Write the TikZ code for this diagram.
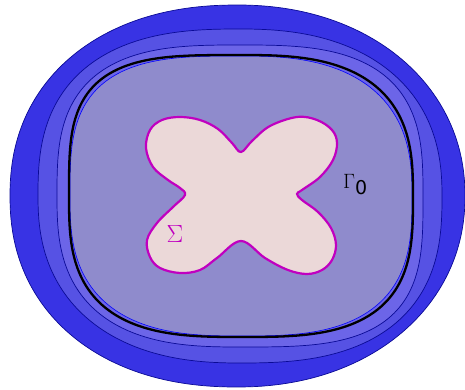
\documentclass[tikz,border=0pt]{standalone}
\usepackage{fontspec}
\newfontfamily\labsans{DejaVu Sans}
\definecolor{layerA}{RGB}{56,51,228}
\definecolor{layerB}{RGB}{86,82,228}
\definecolor{layerC}{RGB}{108,101,232}
\definecolor{inner}{RGB}{143,139,204}
\definecolor{edgeblue}{RGB}{10,10,150}
\definecolor{crossfill}{RGB}{235,216,216}
\definecolor{crossline}{RGB}{192,0,192}
\tikzset{
  ringedge/.style={draw=edgeblue,line width=0.7pt},
  gammaline/.style={draw=black,line width=2.3pt},
  crossshape/.style={draw=crossline,fill=crossfill,line width=2.2pt},
}
% superellipse with an exponent per quadrant: cx, cy, a, b, nTL, nTR, nBL, nBR
\newcommand{\supell}[8]{plot[domain=0.5:360.5,samples=241,variable=\t]
 ({#1+#3*cos(\t)*pow(abs(cos(\t)),2/(cos(\t)<0 ? (sin(\t)<0 ? #5 : #7) : (sin(\t)<0 ? #6 : #8))-1)},
  {#2+#4*sin(\t)*pow(abs(sin(\t)),2/(cos(\t)<0 ? (sin(\t)<0 ? #5 : #7) : (sin(\t)<0 ? #6 : #8))-1)}) -- cycle}
\begin{document}
\begin{tikzpicture}[x=1pt,y=-1pt]
\useasboundingbox (0,0) rectangle (465,390);
\path[fill=layerA,ringedge] \supell{237.5}{196}{227.5}{191}{2.2}{2.1}{2.2}{2.1};
\path[fill=layerB,ringedge] \supell{240}{196}{202}{167}{2.6}{2.35}{2.35}{2.6};
\path[fill=layerC,ringedge] \supell{240}{196}{183}{151}{3.0}{3.0}{2.7}{3.3};
\path[fill=inner,draw=blue,line width=0.6pt] \supell{241}{196}{171}{140}{3.2}{2.6}{2.75}{2.9};
\path[gammaline] \supell{241}{196}{172}{141}{3.5}{2.8}{2.95}{3.1};
\path[crossshape] plot[smooth cycle,tension=0.6] coordinates {
 (241,152) (252,141) (270,126) (297,117) (317,120) (332,130) (337,143) (333,160) (320,177) (302,190) (297,194)
 (302,200) (318,212) (331,228) (336,245) (332,260) (322,270) (307,274) (288,270) (265,258) (241,241)
 (217,258) (200,270) (180,273) (160,268) (150,257) (147,240) (157,223) (173,207) (185,195)
 (180,188) (168,180) (153,167) (146,148) (150,130) (162,120) (180,117) (200,120) (218,129) (232,143)};
\node[text=crossline,inner sep=0pt] (sigma) at (175,234) {\fontsize{23}{26}\selectfont$\Sigma$};
\node[inner sep=0pt,anchor=base west] (gamma) at (343,188) {\fontsize{22}{26}\selectfont$\Gamma$\raisebox{-6pt}{\labsans\fontsize{19}{22}\selectfont 0}};
\end{tikzpicture}
\end{document}
